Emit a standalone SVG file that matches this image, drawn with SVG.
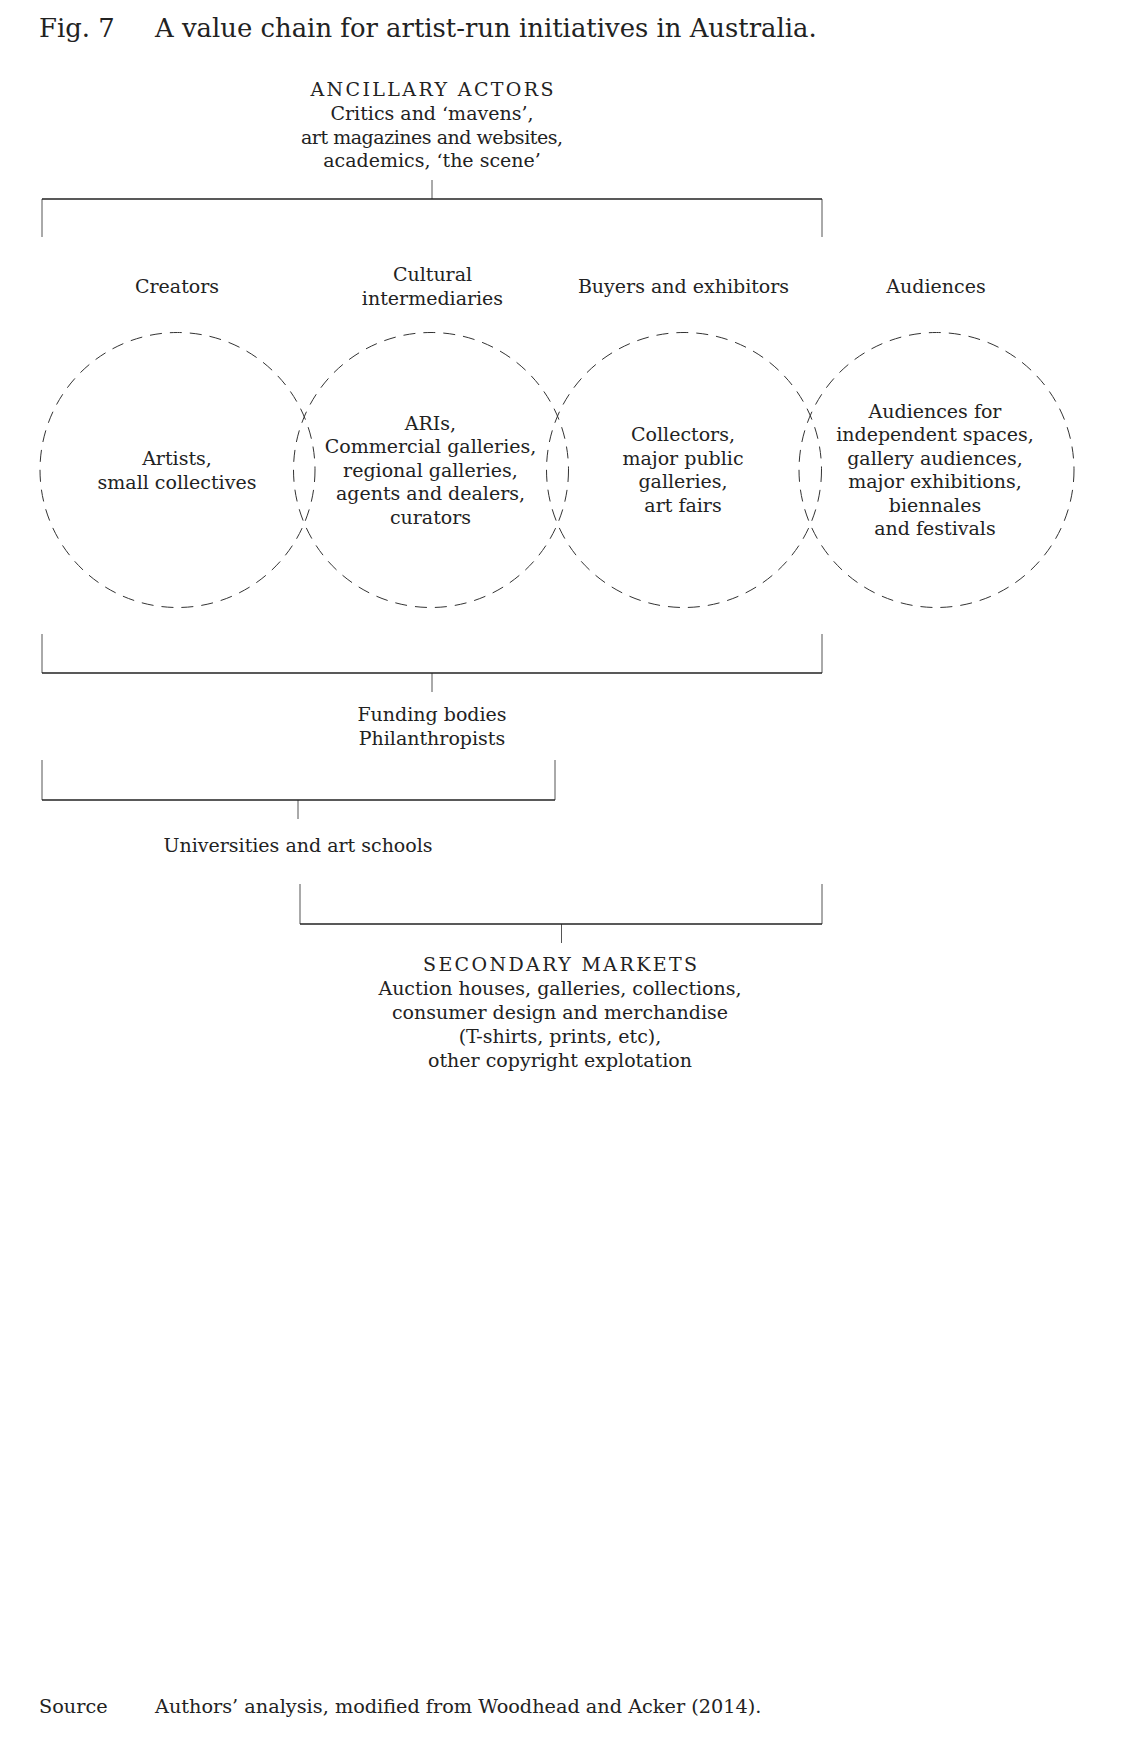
<svg xmlns="http://www.w3.org/2000/svg" width="1131" height="1739" viewBox="0 0 1131 1739">
<style>
text{font-family:"DejaVu Serif","Liberation Serif",serif;fill:#222;}
.t{font-size:19px;text-anchor:middle;}
.h{font-size:25.9px;}
.s{font-size:19.25px;}
.c{fill:none;stroke:#333;stroke-width:1;stroke-dasharray:12 8;}
.hl{fill:none;stroke:#222;stroke-width:1.6;}
.vl{fill:none;stroke:#555;stroke-width:1;}
</style>
<rect width="1131" height="1739" fill="#fff"/>
<g id="title">
<text class="h" x="39" y="37">Fig. 7</text>
<text class="h" x="155" y="37">A value chain for artist-run initiatives in Australia.</text>
</g>
<g id="ancillary">
<text class="t" x="432" y="96" textLength="243">ANCILLARY ACTORS</text>
<text class="t" x="432" y="120">Critics and ‘mavens’,</text>
<text class="t" x="432" y="144" textLength="262">art magazines and websites,</text>
<text class="t" x="432" y="167">academics, ‘the scene’</text>
</g>
<g id="creators">
<text class="t" x="177" y="293">Creators</text>
<circle class="c" cx="177.5" cy="470" r="137.5"/>
<text class="t" x="177" y="465">Artists,</text>
<text class="t" x="177" y="488.5">small collectives</text>
</g>
<g id="intermediaries">
<text class="t" x="432.5" y="281">Cultural</text>
<text class="t" x="432.5" y="305">intermediaries</text>
<circle class="c" cx="431" cy="470" r="137.5"/>
<text class="t" x="430.5" y="429.5">ARIs,</text>
<text class="t" x="430.5" y="453">Commercial galleries,</text>
<text class="t" x="430.5" y="476.5">regional galleries,</text>
<text class="t" x="430.5" y="500">agents and dealers,</text>
<text class="t" x="430.5" y="523.5">curators</text>
</g>
<g id="buyers">
<text class="t" x="683.5" y="293">Buyers and exhibitors</text>
<circle class="c" cx="684" cy="470" r="137.5"/>
<text class="t" x="683" y="441">Collectors,</text>
<text class="t" x="683" y="464.5">major public</text>
<text class="t" x="683" y="488">galleries,</text>
<text class="t" x="683" y="511.5">art fairs</text>
</g>
<g id="audiences">
<text class="t" x="936" y="293">Audiences</text>
<circle class="c" cx="936.5" cy="470" r="137.5"/>
<text class="t" x="935" y="417.5">Audiences for</text>
<text class="t" x="935" y="441">independent spaces,</text>
<text class="t" x="935" y="464.5">gallery audiences,</text>
<text class="t" x="935" y="488">major exhibitions,</text>
<text class="t" x="935" y="511.5">biennales</text>
<text class="t" x="935" y="535">and festivals</text>
</g>
<g id="funding">
<text class="t" x="432" y="721">Funding bodies</text>
<text class="t" x="432" y="745">Philanthropists</text>
</g>
<g id="universities">
<text class="t" x="298" y="852">Universities and art schools</text>
</g>
<g id="secondary">
<text class="t" x="560" y="971" textLength="274">SECONDARY MARKETS</text>
<text class="t" x="560" y="995">Auction houses, galleries, collections,</text>
<text class="t" x="560" y="1019">consumer design and merchandise</text>
<text class="t" x="560" y="1043">(T-shirts, prints, etc),</text>
<text class="t" x="560" y="1067">other copyright explotation</text>
</g>
<g id="source">
<text class="s" x="39" y="1713">Source</text>
<text class="s" x="155" y="1713">Authors’ analysis, modified from Woodhead and Acker (2014).</text>
</g>
<g id="connectors">
<path class="vl" d="M432 180V199M42 199V237M822 199V237"/>
<path class="hl" d="M42 199H822"/>
<path class="vl" d="M42 634V673M822 634V673M432 673V692"/>
<path class="hl" d="M42 673H822"/>
<path class="vl" d="M42 760V800M555 760V800M298 800V819"/>
<path class="hl" d="M42 800H555"/>
<path class="vl" d="M300 884V924M822 884V924M561.5 924V943"/>
<path class="hl" d="M300 924H822"/>
</g>
</svg>
